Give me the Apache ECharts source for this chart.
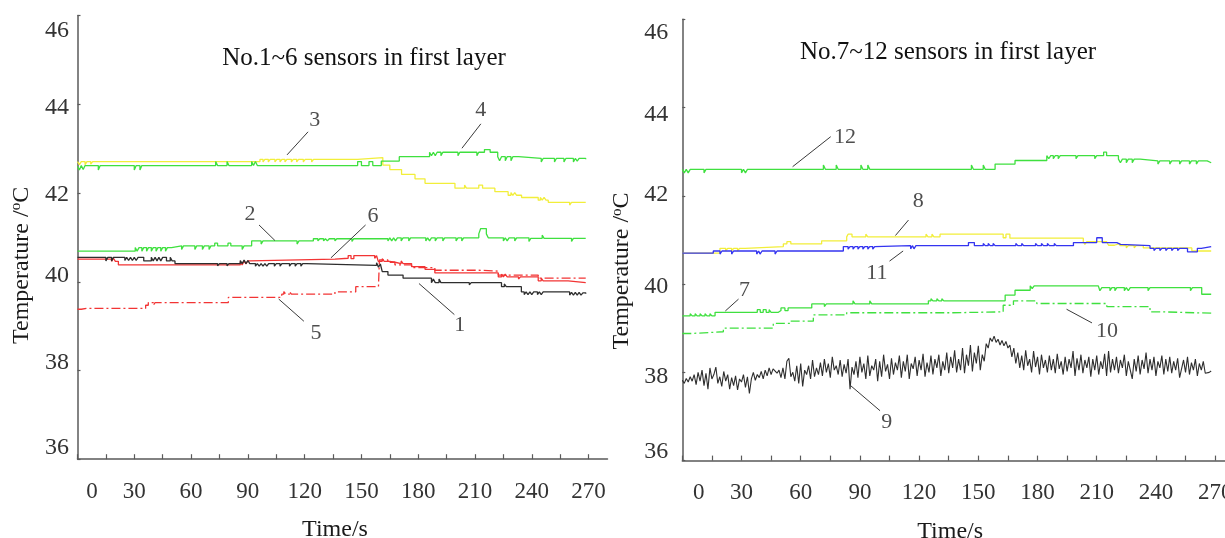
<!DOCTYPE html>
<html>
<head>
<meta charset="utf-8">
<script src="https://cdn.jsdelivr.net/npm/echarts@6/dist/echarts.min.js"></script>
<style>
html,body{margin:0;padding:0;background:#fff;}
#c{width:1225px;height:538px;}
</style>
</head>
<body>
<div id="c"></div>
<script>
// ---------- tick values / labels ----------
const xTickValues = [0,15,30,45,60,75,90,105,120,135,150,165,180,195,210,225,240,255,270];
const xLabelValues = [0,30,60,90,120,150,180,210,240,270];
const titles = ['No.1~6 sensors in first layer', 'No.7~12 sensors in first layer'];

// ---------- left panel: sensors 1-6 ([time s, temperature C]) ----------
const sensor1 = [[0,40.55],[15,40.47],[16,40.55],[18,40.47],[19,40.55],[25,40.48],[26,40.55],[27,40.48],[28,40.55],[29,40.48],[30,40.55],[31,40.48],[32,40.55],[35,40.47],[39,40.55],[40,40.47],[41,40.55],[42,40.47],[43,40.55],[44,40.47],[45,40.55],[47,40.47],[49,40.55],[50,40.47],[51.5,40.41],[74,40.36],[75,40.41],[79,40.36],[80,40.41],[86,40.48],[87,40.41],[88,40.49],[89,40.41],[90,40.48],[91,40.41],[94,40.35],[95,40.41],[96,40.35],[97,40.41],[98,40.35],[99,40.41],[100,40.35],[101,40.41],[104,40.35],[105,40.41],[107,40.35],[108,40.41],[112,40.35],[113,40.41],[115,40.35],[116,40.41],[118,40.35],[119,40.41],[121,40.37],[158,40.43],[159,40.33],[160,40.40],[161,40.23],[164,40.15],[172,40.08],[187,39.98],[188,40.06],[189,39.98],[191,40.06],[192,39.98],[207,39.93],[208,39.98],[224,39.89],[225.5,39.95],[226.5,39.89],[234.5,39.77],[236,39.71],[237,39.77],[238,39.71],[239,39.77],[240,39.71],[241,39.77],[243,39.71],[244,39.77],[245,39.71],[246,39.77],[260,39.70],[261,39.76],[262,39.70],[263,39.76],[264,39.70],[265,39.76],[266,39.70],[267,39.75],[268.5,39.73]];
const sensor2 = [[0,40.69],[30.5,40.77],[31.5,40.69],[32.5,40.77],[34,40.69],[35,40.77],[36.5,40.69],[37.5,40.77],[39,40.69],[40,40.77],[41.5,40.69],[42.5,40.77],[44,40.69],[45,40.77],[46.5,40.69],[47.5,40.77],[49.7,40.81],[55,40.73],[56,40.81],[62,40.73],[63,40.81],[66,40.73],[67,40.81],[69.5,40.73],[70.5,40.81],[72.5,40.87],[74,40.81],[79.5,40.87],[81,40.81],[87,40.73],[88,40.81],[92,40.92],[97,40.85],[98,40.92],[116,40.85],[117,40.92],[124.6,40.97],[127,40.92],[128,40.97],[130,40.92],[131,40.97],[132,40.92],[133,40.97],[136,40.92],[137,40.97],[145,40.91],[146,40.97],[164,40.92],[165,40.99],[166,40.92],[167,40.99],[168,40.92],[169,40.99],[171,40.92],[172,40.99],[175,40.92],[176,40.99],[184,40.92],[185,40.99],[186,40.92],[187,40.99],[189,40.92],[190,40.99],[193,40.92],[194,40.99],[200,40.92],[201,40.99],[203,40.92],[204,40.99],[212,41.08],[213,41.20],[216,41.08],[217,40.99],[225,40.92],[226,40.99],[227,40.92],[228,40.99],[231,40.92],[232,40.99],[238.5,40.91],[239.5,40.98],[245.5,41.05],[246.5,40.98],[261,40.91],[262,40.98],[268.5,40.98]];
const sensor3 = [[0,42.71],[1,42.64],[2,42.71],[4,42.64],[5,42.71],[7,42.65],[8,42.71],[96.4,42.76],[98,42.70],[99,42.76],[100.8,42.70],[101.8,42.76],[104.3,42.70],[105.3,42.76],[107,42.70],[108,42.76],[109.6,42.70],[110.6,42.76],[113,42.70],[114,42.76],[115.8,42.70],[116.8,42.76],[119.3,42.70],[120.3,42.76],[123.7,42.70],[124.7,42.76],[148,42.80],[161.3,42.63],[165,42.53],[171.2,42.42],[178.3,42.32],[183.6,42.22],[199.4,42.11],[204.5,42.18],[205.5,42.11],[212,42.18],[214,42.11],[220.5,42.03],[227.5,41.95],[229,42.01],[230,41.95],[231,42.01],[232,41.95],[234.6,41.90],[243.4,41.84],[244.5,41.90],[245.5,41.84],[246.5,41.90],[247.5,41.84],[248.7,41.79],[260,41.73],[261,41.79],[268.5,41.79]];
const sensor4 = [[0,42.60],[1,42.52],[2,42.62],[3,42.53],[4,42.62],[11,42.52],[12,42.62],[30,42.52],[31,42.62],[33,42.52],[34,42.62],[73,42.71],[74,42.62],[79,42.71],[80,42.62],[92,42.71],[93,42.62],[94,42.71],[95,42.62],[148,42.71],[150,42.62],[154,42.71],[156,42.62],[160.5,42.72],[170,42.82],[186,42.92],[187,42.84],[188,42.92],[189,42.84],[190,42.92],[192,42.84],[193,42.92],[201,42.84],[202,42.92],[211,42.84],[212,42.92],[215,42.98],[218,42.92],[222,42.82],[223,42.73],[224,42.82],[226,42.73],[227,42.82],[229,42.73],[230,42.82],[233,42.78],[245,42.70],[246,42.78],[252,42.70],[253,42.78],[257,42.70],[258,42.78],[262,42.70],[263,42.78],[264,42.72],[265,42.78],[268.5,42.76]];
const sensor5 = [[0,39.38],[2,39.34],[3,39.40],[5,39.36],[6,39.40],[36,39.47],[37.4,39.53],[40,39.47],[41,39.53],[79.7,39.65],[107.9,39.72],[109,39.78],[110,39.72],[112,39.78],[113,39.72],[136,39.77],[147,39.89],[159,39.89],[159.5,40.49],[164,40.44],[167.7,40.38],[176.5,40.32],[188.8,40.26],[211.7,40.24],[222.3,40.15],[243.4,40.08],[268.5,40.08]];
const sensor6 = [[0,40.51],[18,40.46],[19,40.53],[20,40.46],[21.6,40.38],[86,40.45],[87,40.38],[88,40.47],[89,40.40],[90,40.47],[91.1,40.51],[136,40.53],[143,40.59],[144.5,40.52],[146,40.59],[157,40.53],[158,40.59],[158.9,40.46],[161,40.52],[162,40.46],[165,40.50],[166,40.44],[167.7,40.41],[171,40.47],[172,40.41],[176.5,40.34],[183.6,40.28],[188.8,40.20],[222.3,40.11],[224,40.17],[225,40.11],[226,40.17],[227,40.11],[233,40.06],[234,40.11],[243.4,40.02],[245,40.08],[246,40.02],[259.2,39.98],[268.5,39.99]];

// ---------- right panel: sensors 7-12 ----------
const sensor7 = [[0,39.28],[4,39.33],[5,39.28],[6.5,39.33],[7.5,39.28],[9,39.33],[10,39.28],[11.5,39.33],[12.5,39.28],[14,39.33],[15,39.28],[16.6,39.36],[38,39.42],[39.5,39.36],[41,39.42],[42.5,39.36],[44,39.42],[45,39.36],[48.7,39.40],[50,39.46],[52,39.40],[53.6,39.46],[65.6,39.55],[72,39.49],[73,39.55],[86.5,39.62],[87.5,39.55],[95,39.62],[96,39.55],[124.7,39.62],[126,39.67],[127,39.62],[129,39.67],[130,39.62],[131.5,39.67],[132.5,39.62],[163.6,39.75],[168.6,39.86],[176.3,39.96],[177.3,39.90],[178.3,39.96],[210.8,39.92],[211.6,39.85],[212.6,39.92],[216.7,39.85],[217.7,39.92],[219.2,39.85],[220.2,39.92],[224,39.85],[225,39.92],[226,39.85],[227,39.92],[236,39.85],[237,39.92],[257.5,39.85],[258.5,39.92],[263.2,39.77],[268,39.77]];
const sensor8 = [[0,40.70],[19.1,40.81],[22,40.75],[23,40.81],[25,40.75],[26,40.81],[28,40.75],[29,40.81],[31.8,40.85],[51.2,40.91],[53,40.96],[55,40.91],[68.1,40.95],[69,40.91],[70.6,40.98],[83.3,41.07],[84,41.13],[86,41.07],[93,41.13],[94,41.07],[123.5,41.13],[124.5,41.07],[126.5,41.13],[127.5,41.07],[130.6,41.13],[162.6,41.05],[164,41.13],[166,41.04],[203.2,40.96],[204,40.90],[205,40.96],[215,40.92],[216,40.88],[219,40.92],[221.8,40.87],[225,40.82],[226,40.87],[229,40.82],[230,40.87],[233.6,40.82],[258.2,40.75],[268,40.75]];
const sensor9 = [37.82,37.75,37.86,37.78,37.90,37.80,37.95,37.72,38.00,37.80,
  38.05,37.70,37.98,37.62,38.10,37.85,37.95,38.12,37.75,37.90,
  37.68,38.02,37.80,37.95,37.62,37.88,37.70,37.92,37.60,37.85,
  37.78,37.95,37.66,37.90,37.52,37.85,38.00,37.82,37.95,37.88,
  38.02,37.85,38.05,37.92,38.10,37.95,38.08,38.12,37.98,38.05,
  37.88,38.10,37.85,38.25,38.32,37.90,38.00,37.80,38.15,37.75,
  38.20,37.68,38.05,37.95,38.15,37.85,38.28,37.90,38.10,37.95,
  38.22,37.92,38.30,38.00,38.20,37.88,38.35,38.05,38.15,37.95,
  38.28,37.90,38.18,37.98,38.30,37.62,38.12,37.95,38.25,37.88,
  38.35,38.00,38.20,37.85,38.38,37.92,38.15,38.05,38.30,37.80,
  38.25,37.90,38.40,38.02,38.18,37.85,38.32,37.95,38.22,38.05,
  38.38,37.88,38.25,38.02,38.40,37.85,38.20,38.08,38.35,37.92,
  38.28,38.05,38.42,37.90,38.22,38.00,38.38,37.95,38.30,38.10,
  38.40,37.92,38.25,38.05,38.45,37.98,38.35,38.10,38.50,38.00,
  38.30,38.05,38.55,37.98,38.40,38.15,38.62,38.02,38.45,38.20,
  38.60,38.05,38.40,38.25,38.65,38.55,38.78,38.70,38.82,38.68,
  38.75,38.62,38.72,38.60,38.70,38.55,38.62,38.35,38.55,38.20,
  38.45,38.10,38.38,38.05,38.50,38.15,38.30,38.00,38.48,38.12,
  38.35,37.95,38.40,38.10,38.28,38.00,38.38,38.05,38.30,37.98,
  38.42,38.08,38.25,37.95,38.35,38.02,38.30,38.10,38.48,37.92,
  38.32,38.05,38.40,37.98,38.28,38.10,38.35,37.90,38.30,38.05,
  38.38,37.95,38.25,38.08,38.42,37.92,38.48,38.00,38.30,38.05,
  38.35,37.98,38.28,38.10,38.40,37.92,38.25,38.05,37.85,38.30,
  38.02,38.38,37.95,38.28,38.08,38.45,37.98,38.30,38.05,38.35,
  37.92,38.25,38.10,38.38,37.95,38.30,38.02,38.35,37.98,38.25,
  38.05,38.32,37.88,37.85,38.28,38.00,38.35,37.95,38.22,38.05,
  38.30,37.92,38.20,38.05,38.25,37.98,38.02,38.00,38.03];
const sensor10 = [[0,38.88],[4.5,38.92],[20.8,39.00],[46.1,39.11],[54.6,39.16],[66.4,39.30],[83.3,39.35],[135.7,39.37],[162.6,39.52],[167.8,39.62],[179.6,39.56],[215.1,39.49],[237,39.37],[244,39.34],[268,39.35]];
const sensor11 = [[0,40.70],[3,40.66],[4,40.70],[6,40.66],[7,40.70],[9,40.66],[10,40.70],[12,40.66],[13,40.70],[15.7,40.75],[19.1,40.68],[20.1,40.75],[25,40.68],[26,40.75],[37.7,40.68],[38.7,40.75],[39.4,40.68],[40.4,40.75],[47,40.68],[48,40.75],[81.6,40.85],[84,40.79],[85,40.85],[86.5,40.79],[87.5,40.85],[89,40.79],[90,40.85],[91.5,40.79],[92.5,40.85],[94,40.79],[95,40.85],[96.5,40.79],[97.5,40.85],[98.5,40.87],[115.7,40.80],[116.7,40.87],[117.4,40.80],[118.4,40.87],[145,40.94],[148,40.87],[152.5,40.92],[153.5,40.87],[155,40.92],[156,40.87],[157.5,40.92],[158.5,40.87],[169,40.92],[170,40.87],[172,40.92],[173,40.87],[179,40.92],[180,40.87],[182,40.92],[183,40.87],[185,40.92],[186,40.87],[188.5,40.92],[189.5,40.87],[198.2,40.94],[210,41.05],[212.8,40.94],[220.2,40.90],[222,40.87],[237,40.81],[239,40.76],[240,40.81],[242,40.76],[243,40.81],[245,40.76],[246,40.81],[248,40.76],[249,40.81],[251,40.76],[252,40.81],[256,40.73],[261,40.81],[263,40.85],[268,40.85]];
const sensor12 = [[0,42.60],[1,42.52],[2,42.60],[3,42.52],[4,42.60],[11,42.52],[12,42.60],[30,42.52],[31,42.60],[32,42.52],[33,42.60],[71.5,42.70],[72.5,42.60],[78,42.70],[79,42.60],[90.5,42.70],[91.5,42.60],[94,42.70],[95,42.60],[146.5,42.70],[147.5,42.60],[152.5,42.70],[153.5,42.60],[158.5,42.72],[168.6,42.80],[184.7,42.91],[185.7,42.84],[186.7,42.91],[188,42.84],[189,42.91],[190.5,42.84],[191.5,42.91],[199.5,42.84],[200.5,42.91],[209,42.84],[210,42.91],[213.5,42.99],[215,42.91],[221,42.83],[222,42.75],[223,42.83],[225,42.75],[226,42.83],[228,42.75],[229,42.83],[232,42.79],[241,42.72],[242,42.79],[247,42.72],[248,42.79],[252,42.72],[253,42.79],[257,42.72],[258,42.79],[260.5,42.72],[261.5,42.79],[266,42.75],[268,42.75]];

// ---------- curve number callouts (label anchor and leader line, in data units) ----------
const notesLeft = [
  {n:'3', at:[125.4,43.65], from:[121.8,43.38], to:[110.7,42.86]},
  {n:'4', at:[213.1,43.86], from:[213.1,43.56], to:[203.1,43.01]},
  {n:'2', at:[91.1,41.53],  from:[95.9,41.28],  to:[104.3,40.93]},
  {n:'6', at:[156.1,41.47], from:[152.2,41.28], to:[133.9,40.54]},
  {n:'5', at:[126.0,38.84], from:[119.6,39.11], to:[106.3,39.61]},
  {n:'1', at:[202.0,39.02], from:[199.1,39.26], to:[180.4,39.96]}
];
const notesRight = [
  {n:'12', at:[82.5,43.32],  from:[75.2,43.34],  to:[55.9,42.66]},
  {n:'8',  at:[119.6,41.88], from:[114.6,41.45], to:[108.0,41.10]},
  {n:'11', at:[98.6,40.25],  from:[105.0,40.52], to:[111.9,40.75]},
  {n:'7',  at:[31.5,39.85],  from:[28.5,39.66],  to:[21.8,39.39]},
  {n:'10', at:[215.2,38.94], from:[207.6,39.12], to:[194.7,39.43]},
  {n:'9',  at:[103.6,36.87], from:[100.2,37.13], to:[85.0,37.71]}
];

const FONT = "'Liberation Serif','Times New Roman',serif";
const GREEN = '#3fe03f', YELLOW = '#f2ee3a', RED = '#f23434', BLUE = '#3434f0', BLACK = '#2e2e2e';
const AXIS = '#5a5a5a';

function xAxisCfg(gi, max, zeroPad, namePadRight) {
  return {
    type: 'value', gridIndex: gi, min: 0, max: max,
    axisLine: {show: true, onZero: false, lineStyle: {color: AXIS, width: 1.5}},
    axisTick: {show: true, inside: true, length: 5, customValues: xTickValues, lineStyle: {color: AXIS, width: 1.2}},
    axisLabel: {
      customValues: xLabelValues, margin: 21, fontFamily: FONT, fontSize: 23, color: '#333',
      formatter: v => v === 0 ? '{z|0}' : String(v),
      rich: {z: {padding: [0, 0, 0, zeroPad], fontFamily: FONT, fontSize: 23, color: '#333'}}
    },
    splitLine: {show: false},
    name: 'Time/s', nameLocation: 'middle', nameGap: 59,
    nameTextStyle: {fontFamily: FONT, fontSize: 24, color: '#1a1a1a', padding: [0, namePadRight, 0, 0]}
  };
}
// shifts: per-label vertical nudge (px, + = down) so the labels sit where the reference prints them
function yAxisCfg(gi, labelMargin, nameGap, namePadRight, shifts) {
  const rich = {};
  Object.keys(shifts).forEach(k => {
    const s = shifts[k];
    rich['v' + k] = {fontFamily: FONT, fontSize: 24, color: '#333',
      padding: s >= 0 ? [2 * s, 0, 0, 0] : [0, 0, -2 * s, 0]};
  });
  return {
    type: 'value', gridIndex: gi, min: 36, max: 46, interval: 2,
    axisLine: {show: true, lineStyle: {color: AXIS, width: 1.5}},
    axisTick: {show: true, inside: true, length: 3, lineStyle: {color: AXIS, width: 1.2}},
    axisLabel: {
      margin: labelMargin, fontFamily: FONT, fontSize: 24, color: '#333',
      formatter: v => rich['v' + v] ? '{v' + v + '|' + v + '}' : String(v),
      rich: rich
    },
    splitLine: {show: false},
    name: 'Temperature /{s|o}C', nameLocation: 'middle', nameRotate: 90, nameGap: nameGap,
    nameTextStyle: {
      fontFamily: FONT, fontSize: 24, color: '#1a1a1a', padding: [0, namePadRight, 0, 0],
      rich: {s: {fontFamily: FONT, fontSize: 15, color: '#1a1a1a', verticalAlign: 'top', padding: [0, 0, 10, 0]}}
    }
  };
}
function stepSeries(name, data, color, gi, dashed) {
  return {
    name: name, type: 'line', xAxisIndex: gi, yAxisIndex: gi, data: data, step: 'end',
    symbol: 'none', silent: true,
    lineStyle: {color: color, width: 1.3, type: dashed ? [9, 3, 2, 3] : 'solid'}
  };
}
function noteSeries(notes, gi) {
  const out = [];
  notes.forEach(o => {
    out.push({type: 'line', xAxisIndex: gi, yAxisIndex: gi, data: [o.from, o.to], symbol: 'none', silent: true,
      lineStyle: {color: '#3a3a3a', width: 1}, z: 5});
  });
  out.push({type: 'scatter', xAxisIndex: gi, yAxisIndex: gi, symbolSize: 0, silent: true, z: 6,
    data: notes.map(o => ({value: o.at, name: o.n})),
    label: {show: true, position: 'inside', formatter: '{b}', fontFamily: FONT, fontSize: 22, color: '#222'}});
  return out;
}

const chart = echarts.init(document.getElementById('c'), null, {renderer: 'canvas'});
chart.setOption({
  animation: false,
  backgroundColor: '#ffffff',
  title: [
    {text: titles[0], left: 359, top: 41, textAlign: 'center', textStyle: {fontFamily: FONT, fontSize: 25, fontWeight: 'normal', color: '#111'}},
    {text: titles[1], left: 943, top: 35, textAlign: 'center', textStyle: {fontFamily: FONT, fontSize: 25, fontWeight: 'normal', color: '#111'}}
  ],
  grid: [
    {left: 77.5, top: 15.6, width: 530, height: 443.6, outerBoundsMode: 'none', containLabel: false},
    {left: 682.3, top: 19.3, width: 542.7, height: 441.3, outerBoundsMode: 'none', containLabel: false}
  ],
  xAxis: [xAxisCfg(0, 280, 29, 15), xAxisCfg(1, 275, 33, 7)],
  yAxis: [
    yAxisCfg(0, 8.5, 43.5, 56, {46: 15, 44: 3, 42: 2, 40: -6, 38: -8, 36: -11.5}),
    yAxisCfg(1, 14, 48, 62, {46: 13.5, 44: 7.5, 42: -1, 40: 2.5, 38: 4, 36: -9})
  ],
  series: [
    stepSeries('5', sensor5, RED, 0, true),
    stepSeries('6', sensor6, RED, 0, false),
    stepSeries('1', sensor1, BLACK, 0, false),
    stepSeries('2', sensor2, GREEN, 0, false),
    stepSeries('3', sensor3, YELLOW, 0, false),
    stepSeries('4', sensor4, GREEN, 0, false),
    {name: '9', type: 'line', xAxisIndex: 1, yAxisIndex: 1, data: sensor9.map((v, i) => [i, v]),
      symbol: 'none', silent: true, lineStyle: {color: BLACK, width: 1.1}},
    stepSeries('10', sensor10, GREEN, 1, true),
    stepSeries('7', sensor7, GREEN, 1, false),
    stepSeries('8', sensor8, YELLOW, 1, false),
    stepSeries('11', sensor11, BLUE, 1, false),
    stepSeries('12', sensor12, GREEN, 1, false),
    ...noteSeries(notesLeft, 0),
    ...noteSeries(notesRight, 1)
  ]
});
</script>
</body>
</html>
